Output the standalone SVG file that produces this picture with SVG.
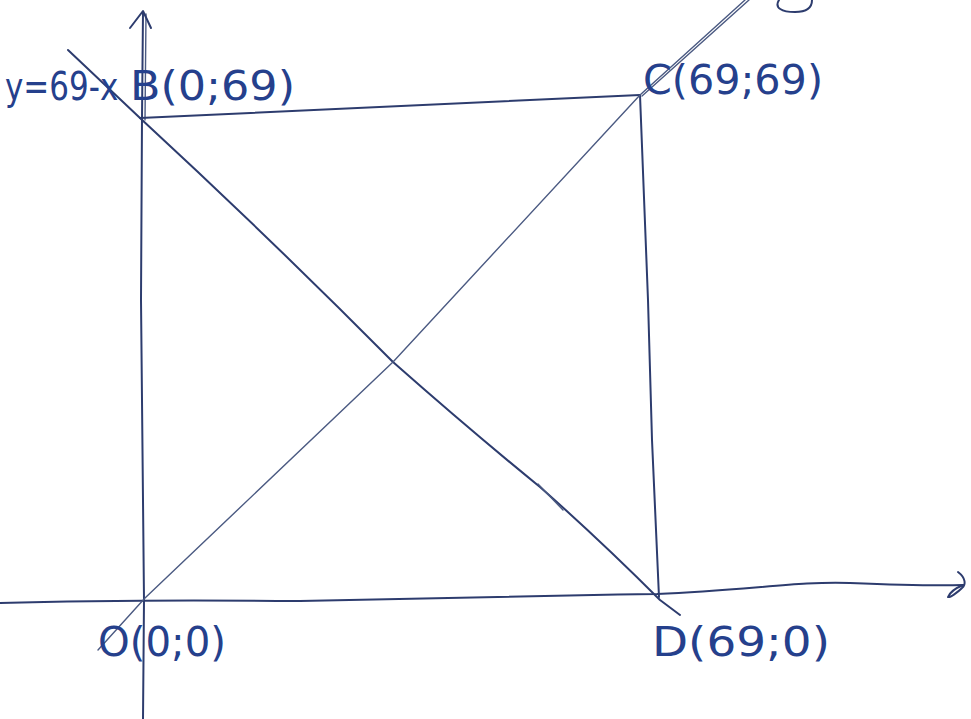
<svg xmlns="http://www.w3.org/2000/svg" width="971" height="719" viewBox="0 0 971 719">
<style>
.ink{fill:none;stroke:#2d3c6e;stroke-width:2;stroke-linecap:round;stroke-linejoin:round}
.thin{fill:none;stroke:#4b5a82;stroke-width:1.4;stroke-linecap:round;stroke-linejoin:round}
.lbl{font-family:"DejaVu Sans","Liberation Sans",sans-serif;fill:#25408c;font-size:40px}
</style>
<rect width="971" height="719" fill="#ffffff"/>
<g id="axes">
<path class="ink" d="M143,719 L144,600 L141,300 L142,118 L143,12"/>
<path class="thin" d="M146,14 L145,120"/>
<path class="ink" d="M130,28 L143,11 L151,28"/>
<path class="ink" d="M0,603 C100,600 200,600 300,601 C450,598 550,595 657,594 C750,590 800,581 850,583 C900,585 930,586 963,585"/>
<path class="ink" d="M958,572 C966,578 966,585 962,588 C958,592 950,598 948,597 C950,592 956,588 963,585"/>
</g>
<g id="square">
<path class="ink" d="M140,118 C250,113 400,105 640,95"/>
<path class="ink" d="M640,95 L648,300 L652,440 L659,597"/>
</g>
<g id="lines">
<path class="ink" d="M68,50 L140,118 Q270,238 393,362 Q470,430 540,487 Q600,540 660,600 L680,615"/>
<path class="thin" d="M538,484 L563,510"/>
<path class="thin" d="M98,650 L145,598 L393,362 L640,95 L745,0"/>
<path class="thin" d="M642,96 L749,0"/>
<path class="ink" d="M779,0 C774,8 782,12 795,12 C806,12 812,8 812,0"/>
</g>
<g id="label-B">
<text class="lbl" transform="translate(5,100) scale(1,1.25)" x="0" y="0" style="font-size:31px">y=69-x</text>
<text class="lbl" x="130" y="100" textLength="165" lengthAdjust="spacingAndGlyphs">B(0;69)</text>
</g>
<g id="label-C">
<text class="lbl" x="643" y="94" textLength="180" lengthAdjust="spacingAndGlyphs">C(69;69)</text>
</g>
<g id="label-O">
<text class="lbl" x="98" y="656" textLength="128" lengthAdjust="spacingAndGlyphs">O(0;0)</text>
</g>
<g id="label-D">
<text class="lbl" x="652" y="656" textLength="178" lengthAdjust="spacingAndGlyphs">D(69;0)</text>
</g>
</svg>
